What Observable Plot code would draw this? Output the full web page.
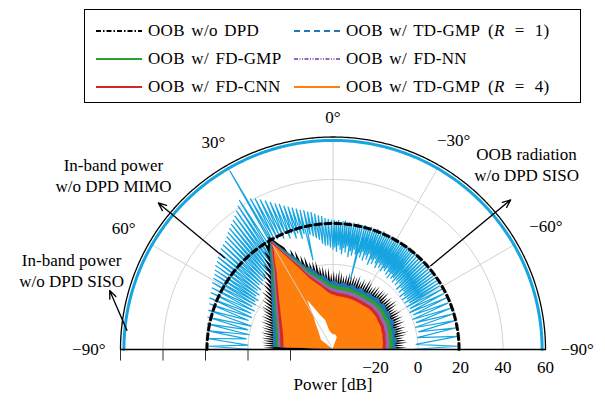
<!DOCTYPE html>
<html><head><meta charset="utf-8">
<script src="https://cdn.jsdelivr.net/npm/d3@7"></script>
<script src="https://cdn.jsdelivr.net/npm/@observablehq/plot@0.6"></script>
<style>
body{margin:0;background:#fff;font-family:"Liberation Serif",serif;}
#wrap{position:relative;width:605px;height:401px;overflow:hidden;background:#fff}
#legend{position:relative;width:605px;height:105px}
.box{position:absolute;left:84px;top:9px;width:495px;height:92px;border:1.4px solid #000;box-sizing:content-box}
.item{position:absolute;height:20px;font-size:17px;line-height:20px;white-space:nowrap;color:#000}
.item svg{position:absolute;top:5px}
.item span.t{position:absolute;top:0}
.eq{display:inline-block;margin:0 10px}
.par{display:inline-block;margin-left:2px}
#chart svg{display:block}
</style></head><body>
<div id="wrap"><div id="legend"><div class="box" id="box"></div></div><div id="chart"></div></div>
<script>
// ---------------- data ----------------
const legendLabels = ["OOB w/o DPD", "OOB w/ TD-GMP <span class=\"par\">(</span><i>R</i><span class=\"eq\">=</span>1)", "OOB w/ FD-GMP", "OOB w/ FD-NN", "OOB w/ FD-CNN", "OOB w/ TD-GMP <span class=\"par\">(</span><i>R</i><span class=\"eq\">=</span>4)"];
const legendColors = ["#000000", "#1f77b4", "#2ca02c", "#9467bd", "#d62728", "#ff7f0e"];
const legendDash = ["5,2,1.5,2", "6,4", "", "4,1.5,1,1.5,1,1.5", "", ""];

const radialTicks = [-20, 0, 20, 40, 60];
const gridDb = [-20, 0, 20, 40];
const spokeAngles = [0, 30, -30, 60, -60];
const angleTicks = [0, 30, 60, 90, -30, -60, -90];
const angleLabels = ["0°", "30°", "60°", "−90°", "−30°", "−60°", "−90°"];

const ringInBandSiso = 58.4;   // dB
const ringOobSiso = 19.3;      // dB
const outerDb = 60;

// in-band power w/o DPD MIMO (light blue beam pattern)
const beamAngle = [90,88.5,87,85,83,81.5,80,78.5,77,75.5,74,72.5,71,69.7,68.5,67.3,66.2,65,64,63,62,61,60.1,59.2,58.4,57.6,56.8,56,55.2,54.4,53.6,52.8,52,51.2,50.4,49.6,48.8,48,47.2,46.4,45.6,44.8,44,43.3,42.6,41.9,41.2,40.5,39.8,39.1,38.4,37.7,37,36.3,35.6,34.9,34.2,33.5,32.8,32.1,31.4,30.6,30,29.4,28.7,28,27.3,26.6,25.9,25.2,24.5,23.8,23.1,22.4,21.7,21,20.3,19.6,18.9,18.2,17.5,16.8,16.1,15.4,14.7,14,13.3,12.6,11.9,11.2,10.5,9.8,9.1,8.4,7.7,7,6.3,5.6,4.9,4.2,3.5,2.8,2.1,1.4,0.7,0,
 -0.5,-1,-1.5,-2,-2.5,-3,-3.5,-4,-4.5,-5,-5.5,-6,-6.5,-7,-7.5,-8,-8.5,-9,-9.5,-10,-10.5,-11,-11.5,-12,-12.5,-13,-13.5,-14,-14.5,-15,-15.5,-16,-16.5,-17,-17.5,-18,-18.5,-19,-19.5,-20,-20.5,-21,-21.5,-22,-22.5,-23,-23.5,-24,-24.5,-25,-25.5,-26,-26.5,-27,-27.5,-28,-28.5,-29,-29.5,-30,-30.5,-31,-31.5,-32,-32.5,-33,-33.5,-34,-34.5,-35,-35.5,-36,-36.5,-37,-37.5,-38,-38.5,-39,-39.5,-40,
 -40.7,-41.3,-42,-42.6,-43.3,-43.9,-44.6,-45.2,-45.9,-46.5,-47.2,-47.8,-48.5,-49.1,-49.8,-50.4,-51.1,-51.7,-52.4,-53,-53.7,-54.3,-55,-55.7,-56.4,-57.1,-57.8,-58.5,-59.2,-60,
 -61,-62,-63.2,-64.3,-65.5,-66.7,-68,-69.3,-70.7,-72,-73.5,-75,-76.7,-78.3,-80,-82,-84,-86.5,-88.5,-90];
const beamDb = [-2,18.5,0,19.5,1,20,0,20.5,1,21,0,21.5,2,22,1,23,2,23.5,1,24,3,25,2,25.5,3,26,2,27,4,28,3,28.5,5,29.5,4,30,6,31,5,31.5,6,32,6,33,7,34,7,35,8,36,8,37,9,38,9,39.5,10,41,12,43,15,10,57,10,41,20,40,18,38.5,20,37,17,35.5,19,34,16,33,18,31.5,15,30.5,17,29.5,14,28.5,16,27.5,3,27,15,26,14,25.5,13,24.5,12,23.5,10,23,9,22,9,21.5,8,21,7,
 21,8,20.5,6,21,9,20,7,20.5,5,21,8,20,6,20.5,9,19.5,4,20.5,7,20,5,20.5,8,19.5,6,20,-6,20.5,7,19.5,5,20,8,20.5,4,19.5,7,20,5,20.5,8,19.5,3,20,6,20.5,4,19.5,7,20,5,20,3,19.5,6,20,4,19.5,6,20,3,19.5,5,20,4,19.5,6,20,3,19,5,19.5,2,19,5,19.5,3,19,4,
 19.5,2,19,4,19.5,2,19,4,19,1,19.5,3,19,1,19,3,18.5,0,19,2,18.5,0,19,2,18.5,0,19,2,18.5,0,
 19,1,18.5,0,19,1,18.5,0,19,1,18.5,0,19,1,19,0,19,-1,18.5,-3];

// OOB w/o DPD (black), fine angular grid
const blackAngle = [-90,-89,-88,-87,-86,-85,-84,-83,-82,-81,-80,-79,-78,-77,-76,-75,-74,-73,-72,-71,-70,-69,-68,-67,-66,-65,-64,-63,-62,-61,-60,-59,-58,-57,-56,-55,-54,-53,-52,-51,-50,-49,-48,-47,-46,-45,-44,-43,-42,-41,-40,-39,-38,-37,-36,-35,-34,-33,-32,-31,-30,-29,-28,-27,-26,-25,-24,-23,-22,-21,-20,-19,-18,-17,-16,-15,-14,-13,-12,-11,-10,-9,-8,-7,-6,-5,-4,-3,-2,-1,0,1,2,3,4,5,6,7,8,9,10,11,12,13,14,15,16,17,18,19,20,21,22,23,24,
 25.5,27,28.2,29,29.6,30.2,31,32,
 33,34,35,36,37,38,39,40,41,42,43,44,45,46,47,48,49,50,51,52,53,54,55,56,57,58,59,60,61,62,63,64,65,66,67,68,69,70,71,72,73,74,75,76,77,78,79,80,81,82,83,84,85,86,87,88,89,90];
const blackDb = [-11,-5,-11,-6,-11,-4.5,-10.5,-5,-10.5,-6,-10.5,-4.5,-10.5,-3.5,-10.2,-5.2,-10,-4,-10,-5.5,-10,-3.5,-10,-4.5,-9.5,-3.5,-9.5,-4.5,-9.5,-3,-9.5,-4,-9.5,-5,-9.5,-3,-9,-2,-9,-4,-9,-3,-9,-4.5,-9,-2.5,-9,-3.5,-9,-3,-9,-4.5,-9.5,-3,-9.5,-4,-9.5,-5,-9.5,-3.5,-9.5,-2.5,-9.5,-4.5,-9.5,-3.5,-9.5,-5,-9.5,-3,-9.5,-4,-9.5,-3.5,-9.5,-4.5,-9.5,-3,-9.5,-4,-9.5,-5,-9.5,-3.5,-9.5,-2.5,-9.5,-4,-9,-3,-9,-4.2,-8.5,-1.5,-7.7,-1.8,-7,-0.5,-6,-0.5,-4.8,2.3,-3.5,2.5,-2.5,2.5,-1.3,5.5,0.5,6.5,2.5,9.5,5,11,7,
 13,15.5,18,19.5,20.8,20,18.5,17.5,
 18.5,12,16.5,9,13.5,6.5,12,4.5,9,2.5,8.5,1,5.5,-0.5,5,-2,2.5,-3.5,3,-4.5,0.5,-5.5,0.5,-6.5,-1.5,-7.5,-1,-8,-2.5,-8.5,-3.5,-9.5,-3,-10,-4.5,-10.5,-4,-11,-5.5,-11.5,-5,-11.5,-6,-12,-5.5,-12,-6.5,-12.5,-6,-12.5,-7,-12.5,-6.5,-13,-7,-13,-7.5,-13];

// inner layers share one angle grid
const fdAngle = [-90,-86,-82,-78,-74,-70,-66,-62,-58,-54,-50,-46,-42,-38,-34,-30,-26,-22,-18,-14,-10,-6,-2,2,6,10,14,18,22,25,27.5,29,29.8,31,33,36,40,44,48,52,56,60,64,68,72,76,80,84,88];
const tdGmp1Db = [-9.5,-10.5,-9,-10.3,-8.5,-9.8,-8,-9.3,-8,-8.8,-7.5,-8.8,-7.5,-9,-8,-9.3,-8,-9.3,-8,-9.3,-8,-9.3,-7.6,-8.3,-5.5,-4.6,-1,0.8,6.5,10.4,14.8,18.2,19.9,17,14.5,9.7,5.2,1.6,-1.3,-3.7,-5.6,-7.2,-8.5,-9.6,-10.4,-11.1,-11.5,-11.8,-12];
const fdGmpDb = [-12,-11.5,-11.5,-11,-11,-10.8,-10.5,-10.2,-10.5,-10,-9.8,-10,-10,-10.3,-10.5,-10.2,-10.5,-10.8,-10.5,-10.3,-10.5,-10.5,-10.1,-9.5,-8,-5.8,-3.5,-0.5,4.7,9,13.8,17.5,19.3,16.2,13.5,8.2,3.7,0.1,-2.8,-5.2,-7.1,-8.7,-10,-11.1,-11.9,-12.6,-13,-13.3,-13.5];
const fdNnDb = [-13.5,-13.3,-13,-13,-12.5,-12.5,-12,-12,-12,-11.5,-11.5,-11.5,-11.5,-11.8,-12,-12,-12,-12,-12,-12,-12,-12,-11.6,-11,-9.5,-7.3,-5,-2,3.5,8,13,17,18.9,15.6,12.5,7.2,2.7,-0.9,-3.8,-6.2,-8.1,-9.7,-11,-12.1,-12.9,-13.6,-14,-14.3,-14.5];
const fdCnnDb = [-15,-14.8,-14.5,-14.5,-14,-14,-13.5,-13.5,-13.5,-13,-13,-13,-13,-13.3,-13.5,-13.5,-13.5,-13.5,-13.5,-13.5,-13.5,-13.5,-13.1,-12.5,-11,-8.8,-6.5,-3.5,2.2,7,12.2,16.2,18.3,15,11.5,6.2,1.7,-1.9,-4.8,-7.2,-9.1,-10.7,-12,-13.1,-13.9,-14.6,-15,-15.3,-15.5];
const tdGmp4Db = [-16.5,-16.3,-16,-16,-15.5,-15.5,-15,-15,-15,-14.5,-14.5,-14.5,-14.5,-14.8,-15,-15,-15,-15,-15,-15,-15,-15,-14.6,-14,-12.5,-10.3,-8,-5,0.5,5.5,10.8,14.8,16.5,13.5,10,4.7,0.2,-3.4,-6.3,-8.7,-10.6,-12.2,-13.5,-14.6,-15.4,-16.1,-16.5,-16.8,-17];

// empty notch inside the TD-GMP (R = 4) region
const notchAngle = [-30,-20,-10,0,10,14,20,24,26,27.3,28.3,30,33,40,51,60];
const notchDb = [-40,-34,-33,-33,-31,-26,-23,-19,-16,-14,-17,-22,-25,-30,-33,-40];

// annotations: arrows (angle, dB) and texts
const arrowFrom = [[49.8, 26.9], [84.7, 57.4], [-49.4, 20.6]];
const arrowTo = [[50, 67.3], [75.2, 68.7], [-49.9, 69.3]];
const noteText = ["In-band power\nw/o DPD MIMO", "In-band power\nw/o DPD SISO", "OOB radiation\nw/o DPD SISO"];
const notePos = [[51.5, 92], [73, 88.6], [-46.2, 86.2]];

// ---------------- geometry helpers ----------------
const deg = Math.PI / 180;
const PX = 2.125;                 // px per dB
const u = db => db + 40;          // radial unit (center = -40 dB)
const X = (a, db) => -u(db) * Math.sin(a * deg);
const Y = (a, db) => u(db) * Math.cos(a * deg);
const arcAngles = d3.range(-90, 90.001, 0.5);
const ring = db => arcAngles.map(a => ({a, db}));
const zip = (A, B) => A.map((a, i) => ({a, db: B[i]}));
const FONT = 17;

// ---------------- legend ----------------
const box = document.getElementById("box");
legendLabels.forEach((lab, i) => {
  const col = i % 2, row = Math.floor(i / 2);
  const it = document.createElement("div");
  it.className = "item";
  it.style.left = (col === 0 ? 10 : 208) + "px";
  it.style.top = (11 + row * 28) + "px";
  it.innerHTML = `<svg width="48" height="10" style="left:0"><line x1="1" y1="5" x2="47" y2="5" stroke="${legendColors[i]}" stroke-width="2" ${legendDash[i] ? `stroke-dasharray="${legendDash[i]}"` : ""}/></svg><span class="t" style="left:53px;word-spacing:2px;letter-spacing:0.3px">${lab}</span>`;
  box.appendChild(it);
});

// ---------------- chart ----------------
const W = 605, H = 296, cx = 332.5, cy = 244;
const ctx = document.createElement("canvas").getContext("2d");
ctx.font = FONT + "px 'Liberation Serif'";
const labelData = angleTicks.map((a, i) => {
  const w = ctx.measureText(angleLabels[i]).width;
  const r = 223 + (w / 2 + 4.5) * Math.abs(Math.sin(a * deg)) + 9 * Math.abs(Math.cos(a * deg));
  return {a, label: angleLabels[i], db: r / PX - 40};
});

const layers = [
  {data: zip(blackAngle, blackDb), color: legendColors[0]},
  {data: zip(fdAngle, tdGmp1Db), color: legendColors[1]},
  {data: zip(fdAngle, fdGmpDb), color: legendColors[2]},
  {data: zip(fdAngle, fdNnDb), color: legendColors[3]},
  {data: zip(fdAngle, fdCnnDb), color: legendColors[4]},
  {data: zip(fdAngle, tdGmp4Db), color: legendColors[5]}
];

const beamColor = "#17a5e1";
const gridColor = "#c4c4c4";

const chart = Plot.plot({
  width: W, height: H,
  marginTop: 0, marginRight: 0, marginBottom: 0, marginLeft: 0,
  x: {domain: [-cx / PX, (W - cx) / PX], axis: null},
  y: {domain: [-(H - cy) / PX, cy / PX], axis: null},
  style: {fontFamily: "'Liberation Serif', serif", fontSize: FONT + "px", background: "#fff", overflow: "visible"},
  marks: [
    // grid
    ...gridDb.map(db => Plot.line(ring(db), {x: d => X(d.a, d.db), y: d => Y(d.a, d.db), stroke: gridColor, strokeWidth: 0.8})),
    Plot.link(spokeAngles, {x1: 0, y1: 0, x2: a => X(a, outerDb), y2: a => Y(a, outerDb), stroke: gridColor, strokeWidth: 0.8}),
    // outer axis ring
    Plot.line(ring(outerDb), {x: d => X(d.a, d.db), y: d => Y(d.a, d.db), stroke: "#000", strokeWidth: 1.3}),
    // in-band SISO ring
    Plot.line(ring(ringInBandSiso), {x: d => X(d.a, d.db), y: d => Y(d.a, d.db), stroke: beamColor, strokeWidth: 3}),
    // beam pattern MIMO
    Plot.line(zip(beamAngle, beamDb), {x: d => X(d.a, d.db), y: d => Y(d.a, d.db), stroke: beamColor, strokeWidth: 1.2, strokeLinejoin: "miter"}),
    // OOB layers
    ...layers.map(L => Plot.area(L.data, {x1: 0, y1: 0, x2: d => X(d.a, d.db), y2: d => Y(d.a, d.db), fill: L.color})),
    Plot.area(zip(notchAngle, notchDb), {x1: 0, y1: 0, x2: d => X(d.a, d.db), y2: d => Y(d.a, d.db), fill: "#fff"}),
    Plot.link([30], {x1: 0, y1: 0, x2: a => X(a, 17), y2: a => Y(a, 17), stroke: "#cfcfcf", strokeWidth: 1}),
    // OOB SISO dashed ring
    Plot.line(ring(ringOobSiso), {x: d => X(d.a, d.db), y: d => Y(d.a, d.db), stroke: "#000", strokeWidth: 3, strokeDasharray: "6,4"}),
    // baseline (±90°)
    Plot.link([0], {x1: () => X(90, outerDb), y1: 0, x2: () => X(-90, outerDb), y2: 0, stroke: "#000", strokeWidth: 1.3}),
    // radial ticks (left) and labels (right)
    Plot.link(radialTicks, {x1: d => -u(d), x2: d => -u(d), y1: 0, y2: -5.2, stroke: "#000", strokeWidth: 0.8}),
    Plot.text(radialTicks, {x: d => u(d), y: 0, dy: 18, text: d => d < 0 ? "−" + Math.abs(d) : String(d), fontSize: FONT, fill: "#000"}),
    Plot.text(["Power [dB]"], {x: 0, y: 0, dy: 35, text: d => d, fontSize: FONT, fill: "#000"}),
    // angle labels
    Plot.text(labelData, {x: d => X(d.a, d.db), y: d => Y(d.a, d.db), text: "label", fontSize: FONT, fill: "#000"}),
    // annotations
    Plot.arrow(arrowFrom.map((f, i) => ({f, t: arrowTo[i]})), {
      x1: d => X(d.f[0], d.f[1]), y1: d => Y(d.f[0], d.f[1]),
      x2: d => X(d.t[0], d.t[1]), y2: d => Y(d.t[0], d.t[1]),
      stroke: "#000", strokeWidth: 1.3, headLength: 10, headAngle: 45
    }),
    Plot.text(noteText.map((t, i) => ({t, p: notePos[i]})), {
      x: d => X(d.p[0], d.p[1]), y: d => Y(d.p[0], d.p[1]), text: "t",
      fontSize: FONT, lineHeight: 1.25, fill: "#000", style: "letter-spacing:0.3px"
    })
  ]
});
document.getElementById("chart").appendChild(chart);
</script>
</body></html>
